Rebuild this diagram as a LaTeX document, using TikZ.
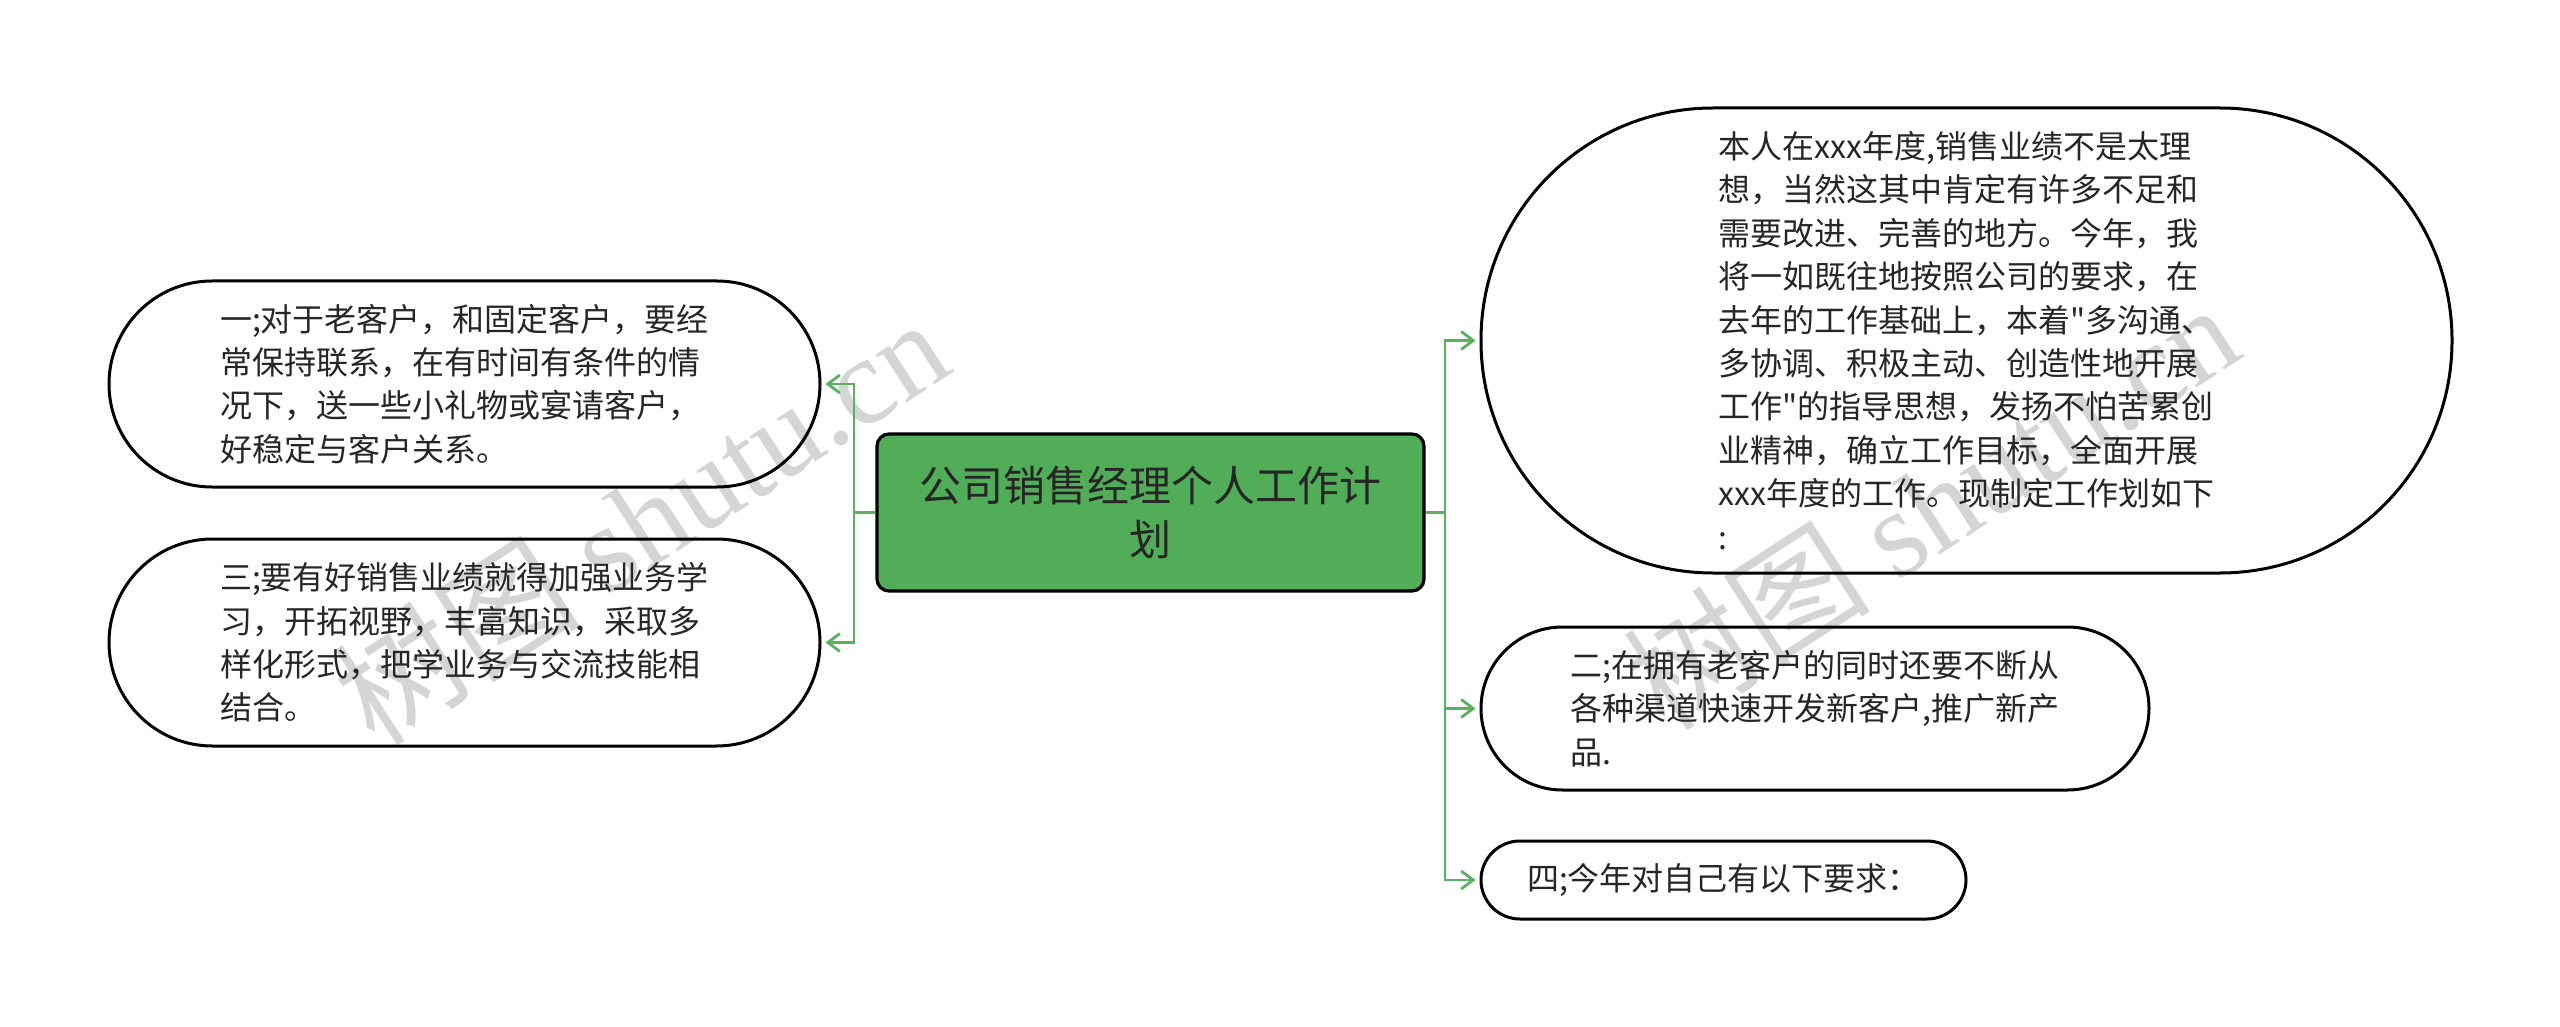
\documentclass[tikz,border=0pt]{standalone}
\usepackage{fontspec}
\newfontfamily\cjk{Noto Sans CJK SC}
\newfontfamily\wmlatin{Liberation Serif}
\usetikzlibrary{arrows.meta}
\definecolor{rootgreen}{HTML}{52AD59}
\definecolor{linkgreen}{HTML}{5BB062}
\definecolor{txt}{HTML}{262626}
\tikzset{
  leaf/.style={draw=black, line width=1.5pt, text=txt, align=left, inner sep=0pt,
    font=\cjk\fontsize{16}{21.7}\selectfont},
  rootbox/.style={draw=black, line width=1.6pt, fill=rootgreen, rounded corners=6pt,
    text=txt, align=center, inner sep=0pt, font=\cjk\fontsize{21}{27}\selectfont},
  conn/.style={draw=linkgreen, line width=1.4pt},
  arr/.style={conn, -{Straight Barb[length=6pt,width=9pt,line width=1.4pt]}, shorten >=2pt},
  wm/.style={text=black!22, opacity=0.75, rotate=33, font=\cjk\fontsize{62}{62}\selectfont}
}
\begin{document}
\begin{tikzpicture}[x=0.5pt,y=-0.5pt]
\useasboundingbox (0,0) rectangle (2560,1027);
% watermarks
\node[wm] (wm1) at (640,520) {树图 {\wmlatin shutu.cn}};
\node[wm] (wm2) at (1930,505) {树图 {\wmlatin shutu.cn}};
% root
\node[rootbox, minimum width=273.5pt, minimum height=78.5pt] (root) at (1150.5,512.5)
  {公司销售经理个人工作计\\划};
% left
\node[leaf, minimum width=355.5pt, minimum height=103pt, rounded corners=51.5pt] (n1) at (464.5,384)
  {一;对于老客户，和固定客户，要经\\常保持联系，在有时间有条件的情\\况下，送一些小礼物或宴请客户，\\好稳定与客户关系。};
\node[leaf, minimum width=355.5pt, minimum height=103.5pt, rounded corners=51.75pt] (n3) at (464.5,642.5)
  {三;要有好销售业绩就得加强业务学\\习，开拓视野，丰富知识，采取多\\样化形式，把学业务与交流技能相\\结合。};
% right
\node[leaf, minimum width=485.5pt, minimum height=232.5pt, rounded corners=116pt] (nb) at (1966.5,340.5)
  {本人在xxx年度,销售业绩不是太理\\想，当然这其中肯定有许多不足和\\需要改进、完善的地方。今年，我\\将一如既往地按照公司的要求，在\\去年的工作基础上，本着"多沟通、\\多协调、积极主动、创造性地开展\\工作"的指导思想，发扬不怕苦累创\\业精神，确立工作目标，全面开展\\xxx年度的工作。现制定工作划如下\\:};
\node[leaf, minimum width=334pt, minimum height=81.5pt, rounded corners=40.75pt] (n2) at (1815,708.5)
  {二;在拥有老客户的同时还要不断从\\各种渠道快速开发新客户,推广新产\\品.};
\node[leaf, minimum width=242.5pt, minimum height=39pt, rounded corners=19.5pt] (n4) at (1723.5,880)
  {四;今年对自己有以下要求：};
% connectors
\coordinate (jl) at (854,512.5);
\coordinate (jr) at (1445,512.5);
\draw[conn] (root.west) -- (jl);
\draw[arr] (jl) |- (n1.east);
\draw[arr] (jl) |- (n3.east);
\draw[conn] (root.east) -- (jr);
\draw[arr] (jr) |- (nb.west);
\draw[arr] (jr) |- (n2.west);
\draw[arr] (jr) |- (n4.west);
\end{tikzpicture}
\end{document}
